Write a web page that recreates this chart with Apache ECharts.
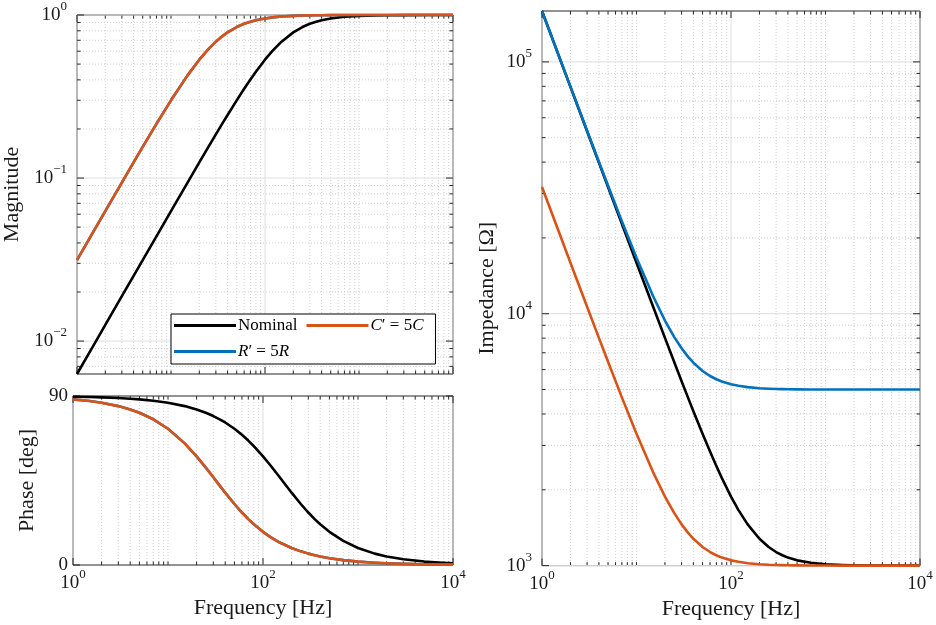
<!DOCTYPE html>
<html><head><meta charset="utf-8">
<script src="https://cdn.jsdelivr.net/npm/echarts@6/dist/echarts.min.js"></script>
<style>html,body{margin:0;padding:0;background:#fff}#c{width:936px;height:625px}</style>
</head><body><div id="c"></div><script>
// ---- data ----
const freq = [1,1.5,2,3,4,5,7,10,15,20,25,30,35,40,50,60,70,80,100,120,150,200,250,300,350,400,500,700,1000,1500,2000,3000,5000,7000,10000];
const magNominal = [0.006283,0.009425,0.012565,0.018847,0.025125,0.0314,0.04394,0.06271,0.09383,0.1247,0.1552,0.1852,0.2148,0.2437,0.2997,0.3528,0.4026,0.4491,0.532,0.602,0.6859,0.7825,0.8436,0.8834,0.9103,0.9292,0.9529,0.9751,0.9876,0.9944,0.9969,0.9986,0.9995,0.9997,0.9999];
const magR5 = [0.0314,0.04707,0.06271,0.09383,0.1247,0.1552,0.2148,0.2997,0.4263,0.532,0.6177,0.6859,0.7398,0.7825,0.8436,0.8834,0.9103,0.9292,0.9529,0.9666,0.9782,0.9876,0.992,0.9944,0.9959,0.9969,0.998,0.999,0.9995,0.9998,0.9999,0.99994,0.99998,0.99999,1.0];
const magC5 = [0.0314,0.04707,0.06271,0.09383,0.1247,0.1552,0.2148,0.2997,0.4263,0.532,0.6177,0.6859,0.7398,0.7825,0.8436,0.8834,0.9103,0.9292,0.9529,0.9666,0.9782,0.9876,0.992,0.9944,0.9959,0.9969,0.998,0.999,0.9995,0.9998,0.9999,0.99994,0.99998,0.99999,1.0];
const phaseNominal = [89.64,89.46,89.28,88.92,88.56,88.2,87.48,86.4,84.62,82.84,81.07,79.33,77.6,75.89,72.56,69.34,66.26,63.31,57.86,52.98,46.7,38.51,32.48,27.95,24.45,21.7,17.66,12.81,9.04,6.06,4.55,3.04,1.82,1.3,0.91];
const phaseR5 = [88.2,87.3,86.4,84.62,82.84,81.07,77.6,72.56,64.77,57.86,51.85,46.7,42.29,38.51,32.48,27.95,24.45,21.7,17.66,14.86,11.98,9.04,7.26,6.06,5.2,4.55,3.64,2.6,1.82,1.22,0.91,0.61,0.36,0.26,0.18];
const phaseC5 = [88.2,87.3,86.4,84.62,82.84,81.07,77.6,72.56,64.77,57.86,51.85,46.7,42.29,38.51,32.48,27.95,24.45,21.7,17.66,14.86,11.98,9.04,7.26,6.06,5.2,4.55,3.64,2.6,1.82,1.22,0.91,0.61,0.36,0.26,0.18];
const zNominal = [159158,106108,79583,53061,39802,31847,22758,15947,10657,8020,6444,5399,4656,4103,3336,2835,2484,2227,1880,1661,1458,1278,1185,1132,1099,1076,1049,1026,1013,1006,1003,1001,1000.5,1000.3,1000.1];
const zR5 = [159233,106221,79734,53287,40102,32221,23280,16682,11729,9398,8095,7290,6759,6390,5927,5660,5493,5381,5247,5173,5111,5063,5040,5028,5021,5016,5010,5005,5002.5,5001,5000.6,5000.3,5000.1,5000,5000];
const zC5 = [31847,21244,15947,10657,8020,6444,4656,3336,2346,1880,1619,1458,1352,1278,1185,1132,1099,1076,1049,1035,1022,1013,1008,1006,1004,1003,1002,1001,1000.5,1000.2,1000.1,1000,1000,1000,1000];
const seriesNames = ['Nominal', 'R\u2032 = 5R', 'C\u2032 = 5C'];
const legendOrder = ['Nominal', 'C\u2032 = 5C', 'R\u2032 = 5R'];
// tick values
const xMajorTicks = [1, 100, 10000];
const xMinorTicks = [2,3,4,5,6,7,8,9,10,20,30,40,50,60,70,80,90,200,300,400,500,600,700,800,900,1000,2000,3000,4000,5000,6000,7000,8000,9000];
const magMajorTicks = [0.01, 0.1, 1];
const magMinorTicks = [0.007,0.008,0.009,0.02,0.03,0.04,0.05,0.06,0.07,0.08,0.09,0.2,0.3,0.4,0.5,0.6,0.7,0.8,0.9];
const phaseTickLabels = [0, 90];
const zMajorTicks = [1000, 10000, 100000];
const zMinorTicks = [2000,3000,4000,5000,6000,7000,8000,9000,20000,30000,40000,50000,60000,70000,80000,90000];

// ---- styling ----
const FONT = '"Liberation Serif", "DejaVu Serif", serif';
const colors = ['#000000', '#0072BD', '#D95319'];
const axisColor = '#262626';
const majorGrid = {stroke: '#dedede', lineWidth: 1};
const minorGrid = {stroke: '#c4c4c4', lineWidth: 0.8, lineDash: [1, 2]};
const tickStyle = {stroke: axisColor, lineWidth: 1};

const rich = {
  b: {fontSize: 19, fontFamily: FONT, color: '#1a1a1a', lineHeight: 30, verticalAlign: 'middle'},
  s: {fontSize: 13, fontFamily: FONT, color: '#1a1a1a', lineHeight: 16, verticalAlign: 'top'}
};
function powLabel(v) {
  const e = Math.log10(v);
  const r = Math.round(e);
  if (Math.abs(e - r) > 1e-6) return '';
  return '{b|10}{s|' + (r < 0 ? '\u2212' + (-r) : r) + '}';
}
function xPowLabel(v) {
  const e = Math.round(Math.log10(v));
  if (Math.abs(Math.log10(v) - e) > 1e-6 || e % 2 !== 0) return '';
  return powLabel(v);
}

function tickSeries(idx, axis, values, major, ref, withGrid, withTicks) {
  return {
    type: 'custom', xAxisIndex: idx, yAxisIndex: idx, silent: true, z: 1,
    data: values.map(v => axis === 'x' ? [v, ref] : [ref, v]),
    renderItem: function (params, api) {
      const cs = params.coordSys;
      const pt = api.coord([api.value(0), api.value(1)]);
      const tl = major ? 7 : 3.5;
      const ch = [];
      if (axis === 'x') {
        const x = pt[0];
        if (withGrid) ch.push({type: 'line', shape: {x1: x, y1: cs.y, x2: x, y2: cs.y + cs.height}, style: major ? majorGrid : minorGrid});
        if (withTicks) {
          ch.push({type: 'line', shape: {x1: x, y1: cs.y + cs.height, x2: x, y2: cs.y + cs.height - tl}, style: tickStyle});
          ch.push({type: 'line', shape: {x1: x, y1: cs.y, x2: x, y2: cs.y + tl}, style: tickStyle});
        }
      } else {
        const y = pt[1];
        if (withGrid) ch.push({type: 'line', shape: {x1: cs.x, y1: y, x2: cs.x + cs.width, y2: y}, style: major ? majorGrid : minorGrid});
        if (withTicks) {
          ch.push({type: 'line', shape: {x1: cs.x, y1: y, x2: cs.x + tl, y2: y}, style: tickStyle});
          ch.push({type: 'line', shape: {x1: cs.x + cs.width, y1: y, x2: cs.x + cs.width - tl, y2: y}, style: tickStyle});
        }
      }
      return {type: 'group', children: ch};
    }
  };
}

function lineSeries(idx, name, values, color) {
  return {
    type: 'line', name: name, xAxisIndex: idx, yAxisIndex: idx, z: 3,
    data: freq.map((f, i) => [f, values[i]]),
    showSymbol: false, symbol: 'none', smooth: false, clip: false,
    lineStyle: {color: color, width: 2.6, join: 'round'}, itemStyle: {color: color}
  };
}

const nameStyle = {fontFamily: FONT, fontSize: 22, color: '#1a1a1a'};
const xBase = {
  type: 'log', logBase: 10, min: 1, max: 10000,
  axisLine: {show: false}, axisTick: {show: false}, splitLine: {show: false}, minorTick: {show: false},
  nameLocation: 'middle', nameTextStyle: nameStyle
};

const option = {
  animation: false,
  backgroundColor: '#fff',
  grid: [
    {left: 73, top: 11, width: 380, height: 363, show: true, borderColor: axisColor, borderWidth: 1, backgroundColor: 'transparent'},
    {left: 73, top: 396, width: 380, height: 169, show: true, borderColor: axisColor, borderWidth: 1, backgroundColor: 'transparent'},
    {left: 542, top: 11, width: 378, height: 555, show: true, borderColor: axisColor, borderWidth: 1, backgroundColor: 'transparent'}
  ],
  xAxis: [
    Object.assign({}, xBase, {gridIndex: 0, axisLabel: {show: false}}),
    Object.assign({}, xBase, {gridIndex: 1, name: 'Frequency [Hz]', nameGap: 32,
      axisLabel: {formatter: xPowLabel, margin: 3, rich: rich, showMinLabel: true, showMaxLabel: true, hideOverlap: false}}),
    Object.assign({}, xBase, {gridIndex: 2, name: 'Frequency [Hz]', nameGap: 32,
      axisLabel: {formatter: xPowLabel, margin: 3, rich: rich, showMinLabel: true, showMaxLabel: true, hideOverlap: false}})
  ],
  yAxis: [
    {gridIndex: 0, type: 'log', logBase: 10, min: 0.006283, max: 1,
      axisLine: {show: false}, axisTick: {show: false}, splitLine: {show: false},
      axisLabel: {formatter: powLabel, margin: 10, rich: rich, showMinLabel: false},
      name: 'Magnitude', nameLocation: 'middle', nameGap: 54, nameTextStyle: nameStyle},
    {gridIndex: 1, type: 'value', min: 0, max: 90, interval: 90,
      axisLine: {show: false}, axisTick: {show: false}, splitLine: {show: false},
      axisLabel: {margin: 5, fontFamily: FONT, fontSize: 19, color: '#1a1a1a'},
      name: 'Phase [deg]', nameLocation: 'middle', nameGap: 35, nameTextStyle: nameStyle},
    {gridIndex: 2, type: 'log', logBase: 10, min: 1000, max: 159233,
      axisLine: {show: false}, axisTick: {show: false}, splitLine: {show: false},
      axisLabel: {formatter: powLabel, margin: 10, rich: rich, showMaxLabel: false},
      name: 'Impedance [\u03A9]', nameLocation: 'middle', nameGap: 44, nameTextStyle: nameStyle}
  ],
  legend: {
    left: 171, top: 314, width: 264, orient: 'horizontal',
    itemWidth: 62, itemHeight: 3, itemGap: 9, icon: 'rect',
    padding: [3, 12, 4, 3], borderColor: '#000', borderWidth: 1, borderRadius: 0, backgroundColor: '#fff',
    selectedMode: false, data: legendOrder,
    textStyle: {fontFamily: FONT, fontSize: 17, color: '#000', padding: [0, 0, 0, -3],
      rich: {i: {fontFamily: FONT, fontSize: 17, fontStyle: 'italic', color: '#000'}, n: {fontFamily: FONT, fontSize: 17, color: '#000'}}},
    formatter: function (name) {
      if (name === 'Nominal') return name;
      const L = name.charAt(0);
      return '{i|' + L + '}{n|\u2032 = 5}{i|' + L + '}';
    }
  },
  series: [
    tickSeries(0, 'x', xMinorTicks, false, 0.1, true, true),
    tickSeries(0, 'x', xMajorTicks, true, 0.1, true, true),
    tickSeries(0, 'y', magMinorTicks, false, 10, true, true),
    tickSeries(0, 'y', magMajorTicks, true, 10, true, true),
    tickSeries(1, 'x', xMinorTicks, false, 45, true, true),
    tickSeries(1, 'x', xMajorTicks, true, 45, true, true),
    tickSeries(1, 'y', phaseTickLabels, true, 10, false, true),
    tickSeries(2, 'x', xMinorTicks, false, 10000, true, true),
    tickSeries(2, 'x', xMajorTicks, true, 10000, true, true),
    tickSeries(2, 'y', zMinorTicks, false, 10, true, true),
    tickSeries(2, 'y', zMajorTicks, true, 10, true, true),
    lineSeries(0, seriesNames[0], magNominal, colors[0]),
    lineSeries(0, seriesNames[1], magR5, colors[1]),
    lineSeries(0, seriesNames[2], magC5, colors[2]),
    lineSeries(1, seriesNames[0], phaseNominal, colors[0]),
    lineSeries(1, seriesNames[1], phaseR5, colors[1]),
    lineSeries(1, seriesNames[2], phaseC5, colors[2]),
    lineSeries(2, seriesNames[0], zNominal, colors[0]),
    lineSeries(2, seriesNames[1], zR5, colors[1]),
    lineSeries(2, seriesNames[2], zC5, colors[2])
  ]
};
const chart = echarts.init(document.getElementById('c'), null, {renderer: 'canvas'});
chart.setOption(option);
</script></body></html>
